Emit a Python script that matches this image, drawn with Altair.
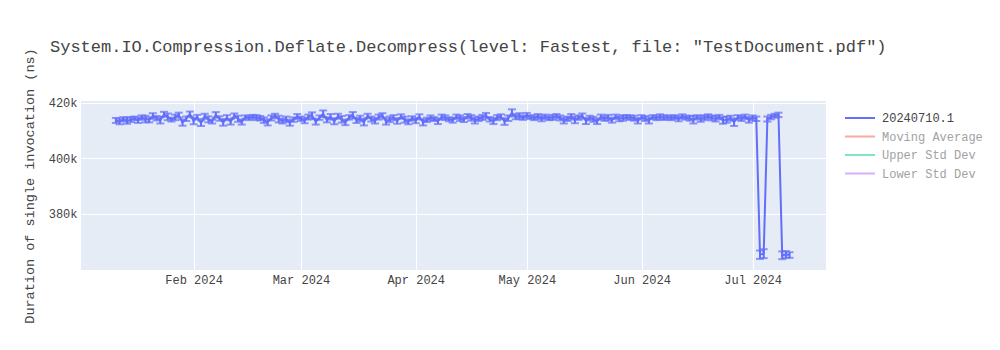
import altair as alt
import pandas as pd

title_text = 'System.IO.Compression.Deflate.Decompress(level: Fastest, file: "TestDocument.pdf")'
run_name = "20240710.1"
legend_names = ["20240710.1", "Moving Average", "Upper Std Dev", "Lower Std Dev"]
legend_colors = ["#636efa", "#F7AA9D", "#80E6CA", "#D5B1FD"]

start_date = "2024-01-11"

# mean duration per run (thousands of ns), one per day
values_k = [
    413.6, 413.2, 414.0, 413.5, 413.9, 414.3, 413.7, 414.6, 414.1, 413.8,
    415.2, 414.4, 413.6, 415.8, 414.9, 413.9, 414.7, 415.5, 412.8, 414.2,
    415.9, 413.4, 414.8, 412.6, 415.1, 414.0, 413.2, 415.6, 414.3, 412.9,
    414.6, 413.1, 415.3, 414.2, 413.0, 414.8, 414.5, 414.9, 414.6, 414.4,
    413.7, 412.9, 414.5, 415.2, 414.1, 413.4, 414.0, 412.8, 413.9, 415.0,
    414.2, 413.6, 414.8, 415.4, 413.1, 414.6, 416.0, 413.8, 414.9, 413.3,
    415.1, 414.0, 412.9, 414.7, 415.5, 413.6, 414.3, 413.0, 415.2, 414.1,
    413.5, 414.8, 415.4, 413.2, 414.0, 414.6, 413.4, 415.0, 413.9, 413.1,
    414.3, 413.6, 414.9, 412.9, 413.8, 414.5, 414.1, 413.3, 414.8, 414.6,
    414.0, 413.7, 414.9, 414.4, 413.9, 415.1, 414.5, 413.6, 414.2, 414.7,
    415.3, 414.0, 413.4, 414.6, 415.0, 413.2, 414.4, 416.3, 414.9, 415.2,
    414.6, 415.4, 414.8, 414.5, 415.0, 414.3, 414.9, 414.4, 414.7, 415.1,
    414.5, 413.6, 414.2, 414.9, 413.8, 414.6, 415.2, 413.4, 414.5, 414.0,
    413.3, 414.8, 414.3, 414.6, 413.7, 414.9, 414.2, 414.5, 414.8, 414.6,
    414.4, 413.5, 414.7, 414.3, 413.6, 414.8, 414.5, 414.9, 414.6, 414.7,
    414.5, 414.8, 414.2, 415.0, 414.6, 414.4, 413.8, 414.7, 414.1, 414.6,
    415.0, 414.5, 414.2, 414.8, 413.6, 413.9, 414.4, 413.0, 414.7, 414.3,
    414.9, 413.8, 414.5, 414.2, 365.2, 365.6, 414.1, 414.8, 415.3, 415.6,
    365.0, 365.3, 365.1,
]

# half-width of error bar (thousands of ns)
errors_k = [
    0.9, 1.0, 0.8, 1.1, 0.9, 0.7, 1.0, 0.8, 1.2, 0.9,
    1.0, 0.8, 1.1, 0.9, 1.2, 0.7, 1.0, 0.9, 1.1, 0.8,
    0.9, 1.2, 0.8, 1.0, 0.9, 1.1, 0.7, 1.0, 0.8, 1.2,
    0.9, 1.0, 0.8, 1.1, 0.9, 0.6, 0.8, 0.7, 0.9, 0.8,
    1.0, 1.1, 0.9, 0.8, 1.2, 0.9, 1.0, 1.1, 0.8, 0.9,
    0.8, 1.0, 0.9, 1.1, 1.0, 0.8, 1.2, 0.9, 1.0, 1.1,
    0.9, 1.2, 1.0, 0.8, 1.1, 0.9, 1.0, 1.2, 0.8, 0.9,
    1.0, 0.9, 0.8, 1.1, 1.0, 0.9, 1.0, 0.8, 1.1, 0.9,
    0.8, 1.0, 0.9, 1.1, 0.8, 0.9, 0.7, 1.0, 0.9, 0.8,
    0.7, 0.9, 0.8, 1.0, 0.9, 0.8, 1.0, 1.1, 0.8, 0.9,
    1.0, 0.8, 1.1, 0.9, 0.8, 1.2, 1.0, 1.3, 0.9, 1.0,
    0.8, 0.9, 0.7, 0.8, 0.9, 1.0, 0.8, 0.7, 0.9, 0.8,
    0.9, 1.1, 0.8, 1.0, 1.2, 0.8, 0.9, 1.1, 0.8, 0.9,
    1.0, 0.9, 0.8, 1.0, 0.9, 0.8, 0.9, 1.0, 0.7, 0.8,
    0.9, 1.0, 0.8, 0.9, 1.1, 0.7, 0.8, 0.9, 0.8, 0.7,
    0.8, 0.7, 0.9, 0.8, 0.7, 0.9, 1.3, 0.8, 1.0, 0.9,
    0.8, 0.9, 1.0, 0.8, 1.2, 1.1, 0.9, 1.4, 0.8, 0.9,
    0.8, 1.0, 0.9, 0.8, 1.5, 1.6, 0.9, 0.8, 0.7, 0.8,
    1.4, 1.2, 1.0,
]

y_ticks = [380000, 400000, 420000]

dates = pd.date_range(start_date, periods=len(values_k), freq="D")
df = pd.DataFrame({
    "date": dates.strftime("%Y-%m-%dT%H:%M:%S"),
    "value": [v * 1000 for v in values_k],
    "lo": [(v - e) * 1000 for v, e in zip(values_k, errors_k)],
    "hi": [(v + e) * 1000 for v, e in zip(values_k, errors_k)],
    "series": run_name,
})

FONT = "Liberation Mono"
TXT = "#444444"
BLUE = "#636efa"

x_scale = alt.Scale(domain=[alt.DateTime(year=2024, month=1, date=1, hours=14),
                            alt.DateTime(year=2024, month=7, date=20, hours=20)])
y_scale = alt.Scale(domain=[359700, 420600], zero=False, nice=False)

x_axis = alt.Axis(
    title=None, format="%b %Y",
    values=[alt.DateTime(year=2024, month=m, date=1) for m in range(2, 8)],
    labelFont=FONT, labelFontSize=12, labelColor=TXT, labelPadding=4,
    ticks=False, domain=False, grid=True, gridColor="white", gridWidth=1,
    labelFlush=False,
)
y_axis = alt.Axis(
    title="Duration of single invocation (ns)", values=y_ticks, format="~s",
    labelFont=FONT, labelFontSize=12, labelColor=TXT, labelPadding=4,
    titleFont=FONT, titleFontSize=13.5, titleColor=TXT, titleFontWeight="normal",
    titleX=-52, titleBaseline="middle",
    ticks=False, domain=False, grid=True, gridColor="white", gridWidth=1,
)

base = alt.Chart(df)

line = base.mark_line(strokeWidth=2).encode(
    x=alt.X("date:T", scale=x_scale, axis=x_axis),
    y=alt.Y("value:Q", scale=y_scale, axis=y_axis),
    color=alt.Color(
        "series:N",
        scale=alt.Scale(domain=legend_names, range=legend_colors),
        legend=alt.Legend(
            title=None, orient="none", legendX=763, legendY=9,
            symbolType="stroke", symbolSize=900, symbolStrokeWidth=2,
            labelFont=FONT, labelFontSize=12, labelOffset=6,
            labelColor={"expr": "datum.value == '20240710.1' ? '#444444' : '#a2a2a2'"},
            clipHeight=16, rowPadding=2.5, padding=0,
        ),
    ),
)

bars = base.mark_rule(color=BLUE, strokeWidth=2).encode(
    x="date:T", y=alt.Y("lo:Q", scale=y_scale), y2="hi:Q"
)
cap_lo = base.mark_tick(color=BLUE, orient="horizontal", size=8, thickness=2).encode(
    x="date:T", y=alt.Y("lo:Q", scale=y_scale)
)
cap_hi = base.mark_tick(color=BLUE, orient="horizontal", size=8, thickness=2).encode(
    x="date:T", y=alt.Y("hi:Q", scale=y_scale)
)

chart = alt.layer(line, bars, cap_lo, cap_hi).properties(
    width=745, height=169,
    autosize=alt.AutoSizeParams(type="none"),
    padding={"left": 81, "top": 101, "right": 174, "bottom": 80},
    title=alt.TitleParams(
        title_text, anchor="start", frame="group", dx=-31, offset=0, dy=8,
        font=FONT, fontSize=17, color=TXT, fontWeight="normal",
    ),
    background="white",
).configure_view(fill="#E5ECF6", stroke=None)

chart.save("out.html", embed_options={"renderer": "svg", "actions": False})
